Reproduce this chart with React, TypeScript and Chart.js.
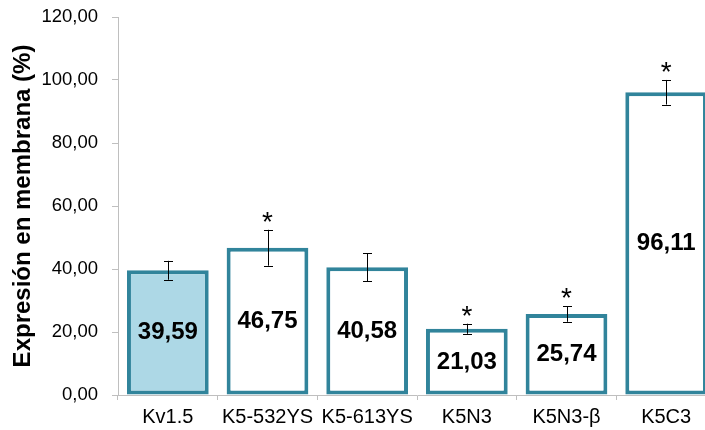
import React, { useEffect, useRef } from "react";
import { Chart, registerables } from "chart.js";

Chart.register(...registerables);

const categories = ["Kv1.5", "K5-532YS", "K5-613YS", "K5N3", "K5N3-β", "K5C3"];
const values = [39.59, 46.75, 40.58, 21.03, 25.74, 96.11];
const errors = [3.0, 5.7, 4.4, 1.6, 2.5, 3.9];
const significant = [false, true, false, true, true, true];
const yTicks = [0, 20, 40, 60, 80, 100, 120];

const fmt = (v: number) => v.toFixed(2).replace(".", ",");

const overlayPlugin = {
  id: "overlay",
  afterDatasetsDraw(chart: any) {
    const ctx = chart.ctx;
    const meta = chart.getDatasetMeta(0);
    const y = chart.scales.y;
    ctx.save();
    meta.data.forEach((bar: any, i: number) => {
      const x = bar.x;
      const v = values[i];
      const e = errors[i];
      const yTop = y.getPixelForValue(v + e);
      const yBot = y.getPixelForValue(v - e);
      // error bar
      ctx.strokeStyle = "#000";
      ctx.lineWidth = 1;
      ctx.beginPath();
      ctx.moveTo(Math.round(x) + 0.5, yTop);
      ctx.lineTo(Math.round(x) + 0.5, yBot);
      ctx.moveTo(Math.round(x) - 4, Math.round(yTop) + 0.5);
      ctx.lineTo(Math.round(x) + 5, Math.round(yTop) + 0.5);
      ctx.moveTo(Math.round(x) - 4, Math.round(yBot) + 0.5);
      ctx.lineTo(Math.round(x) + 5, Math.round(yBot) + 0.5);
      ctx.stroke();
      // value label
      ctx.fillStyle = "#000";
      ctx.font = "bold 24px 'Liberation Sans', Arial, sans-serif";
      ctx.textAlign = "center";
      ctx.textBaseline = "middle";
      ctx.fillText(fmt(v), x, y.getPixelForValue(v / 2));
      // asterisk
      if (significant[i]) {
        ctx.font = "28px 'Liberation Sans', Arial, sans-serif";
        ctx.textBaseline = "alphabetic";
        const m = ctx.measureText("*");
        const inkMid = (m.actualBoundingBoxAscent - m.actualBoundingBoxDescent) / 2;
        const target = yTop - 13;
        ctx.fillText("*", x, target + inkMid);
      }
    });
    ctx.restore();
  },
};

export default function App() {
  const ref = useRef<HTMLCanvasElement | null>(null);
  useEffect(() => {
    document.body.style.margin = "0";
    if (!ref.current) return;
    const chart = new Chart(ref.current, {
      type: "bar",
      data: {
        labels: categories,
        datasets: [
          {
            data: values,
            backgroundColor: values.map((_, i) => (i === 0 ? "#ADD8E6" : "#FFFFFF")),
            borderColor: "#31849B",
            borderWidth: 4,
            borderSkipped: false,
            categoryPercentage: 1,
            barPercentage: 0.82,
          },
        ],
      },
      options: {
        animation: false,
        responsive: false,
        maintainAspectRatio: false,
        layout: { padding: { top: 17, left: 0, right: 0, bottom: 0 } },
        plugins: { legend: { display: false }, tooltip: { enabled: false } },
        scales: {
          x: {
            afterFit: (s: any) => {
              s.height = 35;
              s.paddingLeft = 0;
              s.paddingRight = 0;
            },
            grid: {
              drawOnChartArea: false,
              drawTicks: true,
              tickLength: 5,
              color: "#bfbfbf",
              offset: true,
            },
            border: { color: "#bfbfbf", width: 1 },
            ticks: {
              color: "#000",
              padding: 5,
              font: { family: "'Liberation Sans', Arial, sans-serif", size: 20 },
              maxRotation: 0,
              autoSkip: false,
            },
          },
          y: {
            min: 0,
            max: 120,
            afterFit: (s: any) => {
              s.width = 118;
              s.paddingTop = 0;
              s.paddingBottom = 0;
            },
            afterBuildTicks: (s: any) => {
              s.ticks = yTicks.map((v) => ({ value: v }));
            },
            grid: {
              drawOnChartArea: false,
              drawTicks: true,
              tickLength: 6,
              color: "#bfbfbf",
            },
            border: { color: "#bfbfbf", width: 1 },
            ticks: {
              color: "#000",
              padding: 14,
              font: { family: "'Liberation Sans', Arial, sans-serif", size: 18.5 },
              callback: (v: any) => fmt(Number(v)),
            },
            title: {
              display: true,
              text: "Expresión en membrana (%)",
              color: "#000",
              font: { family: "'Liberation Sans', Arial, sans-serif", size: 24, weight: "bold" },
              padding: { top: 9, bottom: 0 },
            },
          },
        },
      },
      plugins: [overlayPlugin],
    });
    return () => chart.destroy();
  }, []);
  return (
    <div style={{ position: "absolute", left: 0, top: 0, width: 705, height: 430, overflow: "hidden", background: "#fff" }}>
      <canvas ref={ref} width={716} height={430} style={{ width: 716, height: 430, display: "block" }} />
    </div>
  );
}
